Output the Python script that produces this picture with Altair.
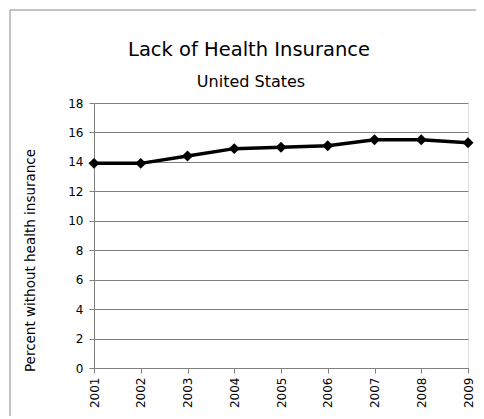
import altair as alt
import pandas as pd

years = ["2001", "2002", "2003", "2004", "2005", "2006", "2007", "2008", "2009"]
percent = [13.9, 13.9, 14.4, 14.9, 15.0, 15.1, 15.5, 15.5, 15.3]
title_text = "Lack of Health Insurance"
subtitle_text = "United States"

df = pd.DataFrame({"year": years, "pct": percent})

FONT = "DejaVu Sans"
one = pd.DataFrame({"a": [0]})

frame = alt.Chart(one).mark_rect(
    fill=None, stroke="#888888", strokeWidth=1
).encode(
    x=alt.value(-84), x2=alt.value(420), y=alt.value(-93), y2=alt.value(330)
)

title = alt.Chart(one).mark_text(
    text=title_text, font=FONT, fontSize=19.5, color="#000000", align="center", baseline="alphabetic"
).encode(x=alt.value(155), y=alt.value(-47))

subtitle = alt.Chart(one).mark_text(
    text=subtitle_text, font=FONT, fontSize=16, color="#000000", align="center", baseline="alphabetic"
).encode(x=alt.value(157), y=alt.value(-16))

base = alt.Chart(df).encode(
    x=alt.X("year:O", scale=alt.Scale(type="point", padding=0),
            axis=alt.Axis(title=None, labelAngle=-90, labelFontSize=12, labelFont=FONT,
                          labelColor="#000000", domainColor="#808080", tickColor="#808080",
                          tickSize=5, labelPadding=4, grid=False, labelBaseline="middle",
                          labelAlign="right")),
    y=alt.Y("pct:Q", scale=alt.Scale(domain=[0, 18]),
            axis=alt.Axis(title="Percent without health insurance", values=list(range(0, 19, 2)),
                          labelFontSize=12, labelFont=FONT, labelColor="#000000",
                          titleFont=FONT, titleFontSize=13.5, titleFontWeight="normal",
                          titleColor="#000000", titlePadding=30, titleY=157,
                          domainColor="#808080", tickColor="#808080", tickSize=5,
                          gridColor="#808080", gridWidth=1, labelPadding=6)),
)

line = base.mark_line(color="#000000", strokeWidth=3.5)
pts = base.mark_point(shape="diamond", filled=True, color="#000000", size=120, opacity=1)

chart = alt.layer(frame, title, subtitle, line, pts).properties(
    width=374, height=265,
    autosize=alt.AutoSizeParams(type="none"),
    padding={"left": 86, "top": 95, "right": 8, "bottom": 48},
).configure_view(stroke=None).configure(background="white")

chart.save("out.html", embed_options={"renderer": "svg", "actions": False})
